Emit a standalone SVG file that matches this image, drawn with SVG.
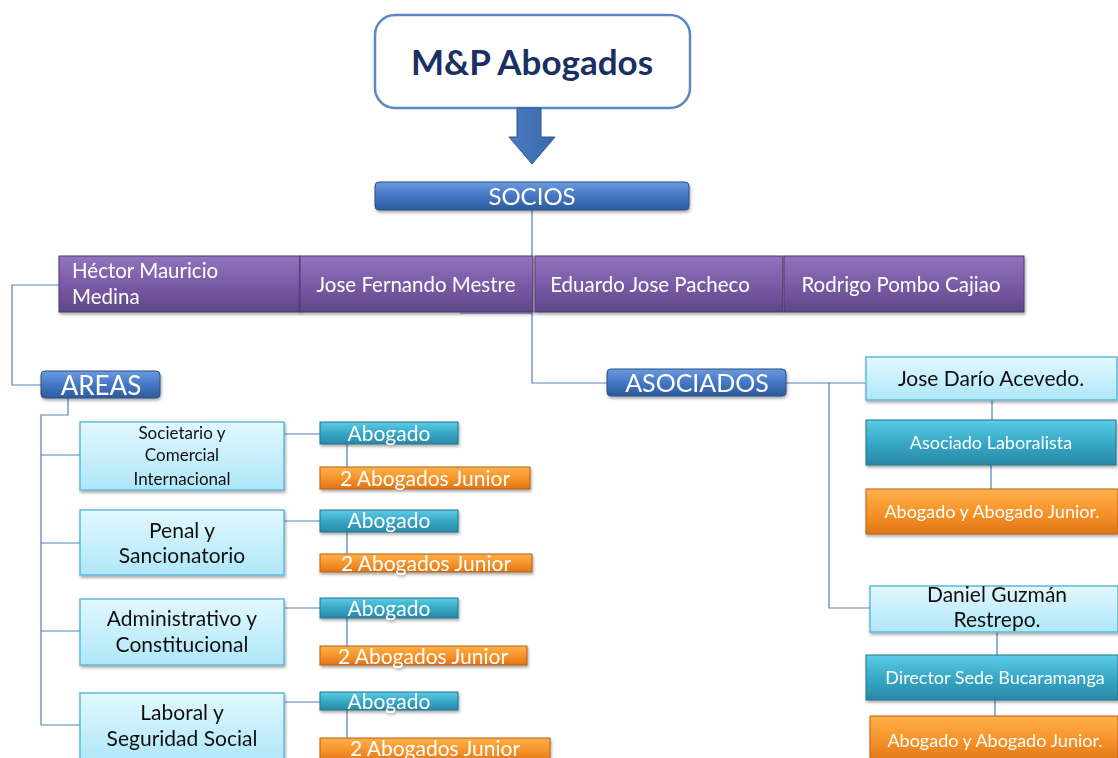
<svg xmlns="http://www.w3.org/2000/svg" width="1118" height="758" viewBox="0 0 1118 758">
<defs>
<linearGradient id="gBlue" x1="0" y1="0" x2="0" y2="1"><stop offset="0" stop-color="#6a9be0"/><stop offset="0.5" stop-color="#4577c4"/><stop offset="1" stop-color="#2d5a9c"/></linearGradient>
<linearGradient id="gPurple" x1="0" y1="0" x2="0" y2="1"><stop offset="0" stop-color="#9274bd"/><stop offset="0.5" stop-color="#7a5ca6"/><stop offset="1" stop-color="#5f4586"/></linearGradient>
<linearGradient id="gTeal" x1="0" y1="0" x2="0" y2="1"><stop offset="0" stop-color="#5ccbe5"/><stop offset="0.5" stop-color="#37a9c8"/><stop offset="1" stop-color="#2a87a6"/></linearGradient>
<linearGradient id="gOrange" x1="0" y1="0" x2="0" y2="1"><stop offset="0" stop-color="#fdb14a"/><stop offset="0.5" stop-color="#f7942b"/><stop offset="1" stop-color="#e07516"/></linearGradient>
<linearGradient id="gCyan" x1="0" y1="0" x2="0" y2="1"><stop offset="0" stop-color="#e2f8ff"/><stop offset="1" stop-color="#aee7f8"/></linearGradient>
<linearGradient id="gArrow" x1="0" y1="0" x2="1" y2="0"><stop offset="0" stop-color="#4a7cc0"/><stop offset="1" stop-color="#3a69ab"/></linearGradient>
<filter id="sh" x="-5%" y="-20%" width="110%" height="150%"><feDropShadow dx="1" dy="2" stdDeviation="1.5" flood-color="#000" flood-opacity="0.35"/></filter>
</defs>
<style>
text{font-family:Lato,"Open Sans","Liberation Sans",sans-serif}
.blue{fill:url(#gBlue);stroke:#2c4f80;stroke-width:1}
.purple{fill:url(#gPurple);stroke:#4e3870;stroke-width:1}
.teal{fill:url(#gTeal);stroke:#24758f;stroke-width:1}
.orange{fill:url(#gOrange);stroke:#b86010;stroke-width:1}
.cyan{fill:url(#gCyan);stroke:#5fb9d9;stroke-width:1.5}
.w{fill:#fff}
.k{fill:#111}
.c{text-anchor:middle}
.conn{fill:none;stroke:#4f81bd;stroke-width:1.2}
</style>

<g id="connectors">
<path class="conn" d="M532 210 V383 H607"/>
<path class="conn" d="M460 313 H532"/>
<path class="conn" d="M59 285 H12 V385 H42"/>
<path class="conn" d="M68 398 V415 H41 V725"/>
<path class="conn" d="M41 455 H80 M41 543 H80 M41 631 H80 M41 725 H80"/>
<path class="conn" d="M284 434 H320 M284 521 H320 M284 608 H320 M284 702 H320"/>
<path class="conn" d="M347 444 V467 M347 532 V554 M347 618 V646 M347 710 V738"/>
<path class="conn" d="M786 383 H866 M829 383 V608 H870"/>
<path class="conn" d="M992 400 V420 M991 465 V489 M997 632 V655 M995 700 V716"/>
</g>

<g id="title">
<rect x="375" y="15" width="315" height="93" rx="20" fill="#fff" stroke="#5b87c2" stroke-width="2.5"/>
<text x="532" y="75" class="c" font-size="35" font-weight="bold" fill="#1a2f63">M&amp;P Abogados</text>
</g>
<g id="arrow">
<path d="M517 108 H541 V137 H555 L532 164 L509 137 H517 Z" fill="url(#gArrow)" stroke="#2f5590" stroke-width="1"/>
</g>

<g id="socios" filter="url(#sh)">
<rect class="blue" x="375" y="182" width="314" height="28" rx="4"/>
<text x="532" y="205" class="c w" font-size="24">SOCIOS</text>
</g>

<g id="p1" filter="url(#sh)"><rect class="purple" x="59" y="256" width="241" height="56"/>
<text x="72" y="278" class="w" font-size="20.5">Héctor Mauricio</text><text x="72" y="304" class="w" font-size="20.5">Medina</text></g>
<g id="p2" filter="url(#sh)"><rect class="purple" x="300" y="256" width="233" height="56"/>
<text x="416" y="292" class="c w" font-size="20.5">Jose Fernando Mestre</text></g>
<g id="p3" filter="url(#sh)"><rect class="purple" x="535" y="256" width="248" height="56"/>
<text x="650" y="292" class="c w" font-size="20.5">Eduardo Jose Pacheco</text></g>
<g id="p4" filter="url(#sh)"><rect class="purple" x="784" y="256" width="240" height="56"/>
<text x="901" y="292" class="c w" font-size="20.5">Rodrigo Pombo Cajiao</text></g>

<g id="areas" filter="url(#sh)"><rect class="blue" x="41" y="371" width="119" height="27" rx="4"/>
<text x="101" y="395" class="c w" font-size="26">AREAS</text></g>

<g id="a1" filter="url(#sh)"><rect class="cyan" x="80" y="422" width="204" height="68"/>
<text x="182" y="439" class="c k" font-size="17">Societario y</text><text x="182" y="461" class="c k" font-size="17">Comercial</text><text x="182" y="485" class="c k" font-size="17">Internacional</text></g>
<g id="a2" filter="url(#sh)"><rect class="cyan" x="80" y="510" width="204" height="65"/>
<text x="182" y="538" class="c k" font-size="21">Penal y</text><text x="182" y="563" class="c k" font-size="21">Sancionatorio</text></g>
<g id="a3" filter="url(#sh)"><rect class="cyan" x="80" y="599" width="204" height="66"/>
<text x="182" y="626" class="c k" font-size="21">Administrativo y</text><text x="182" y="652" class="c k" font-size="21">Constitucional</text></g>
<g id="a4" filter="url(#sh)"><rect class="cyan" x="80" y="693" width="204" height="70"/>
<text x="182" y="720" class="c k" font-size="21">Laboral y</text><text x="182" y="746" class="c k" font-size="21">Seguridad Social</text></g>

<g id="ab1" filter="url(#sh)"><rect class="teal" x="320" y="422" width="138" height="22"/><text x="389" y="441" class="c w" font-size="21">Abogado</text></g>
<g id="ab2" filter="url(#sh)"><rect class="teal" x="320" y="510" width="138" height="22"/><text x="389" y="528" class="c w" font-size="21">Abogado</text></g>
<g id="ab3" filter="url(#sh)"><rect class="teal" x="320" y="598" width="138" height="20"/><text x="389" y="616" class="c w" font-size="21">Abogado</text></g>
<g id="ab4" filter="url(#sh)"><rect class="teal" x="320" y="692" width="138" height="18"/><text x="389" y="709" class="c w" font-size="21">Abogado</text></g>

<g id="j1" filter="url(#sh)"><rect class="orange" x="320" y="467" width="210" height="22"/><text x="425" y="486" class="c w" font-size="21">2 Abogados Junior</text></g>
<g id="j2" filter="url(#sh)"><rect class="orange" x="320" y="554" width="212" height="18"/><text x="426" y="571" class="c w" font-size="21">2 Abogados Junior</text></g>
<g id="j3" filter="url(#sh)"><rect class="orange" x="320" y="646" width="207" height="19"/><text x="423" y="664" class="c w" font-size="21">2 Abogados Junior</text></g>
<g id="j4" filter="url(#sh)"><rect class="orange" x="320" y="738" width="230" height="24"/><text x="435" y="756" class="c w" font-size="21">2 Abogados Junior</text></g>

<g id="asociados" filter="url(#sh)"><rect class="blue" x="607" y="369" width="179" height="27" rx="4"/>
<text x="697" y="392" class="c w" font-size="25">ASOCIADOS</text></g>

<g id="jda" filter="url(#sh)"><rect class="cyan" x="866" y="357" width="251" height="43"/>
<text x="991" y="386" class="c k" font-size="21">Jose Darío Acevedo.</text></g>
<g id="al" filter="url(#sh)"><rect class="teal" x="866" y="420" width="250" height="45"/>
<text x="991" y="449" class="c w" font-size="18">Asociado Laboralista</text></g>
<g id="aj1" filter="url(#sh)"><rect class="orange" x="866" y="489" width="252" height="45"/>
<text x="992" y="518" class="c w" font-size="18">Abogado y Abogado Junior.</text></g>

<g id="dgr" filter="url(#sh)"><rect class="cyan" x="870" y="586" width="248" height="46"/>
<text x="997" y="602" class="c k" font-size="21">Daniel Guzmán</text><text x="997" y="627" class="c k" font-size="21">Restrepo.</text></g>
<g id="dsb" filter="url(#sh)"><rect class="teal" x="866" y="655" width="252" height="45"/>
<text x="995" y="684" class="c w" font-size="18">Director Sede Bucaramanga</text></g>
<g id="aj2" filter="url(#sh)"><rect class="orange" x="870" y="716" width="248" height="46"/>
<text x="995" y="747" class="c w" font-size="18">Abogado y Abogado Junior.</text></g>
</svg>
